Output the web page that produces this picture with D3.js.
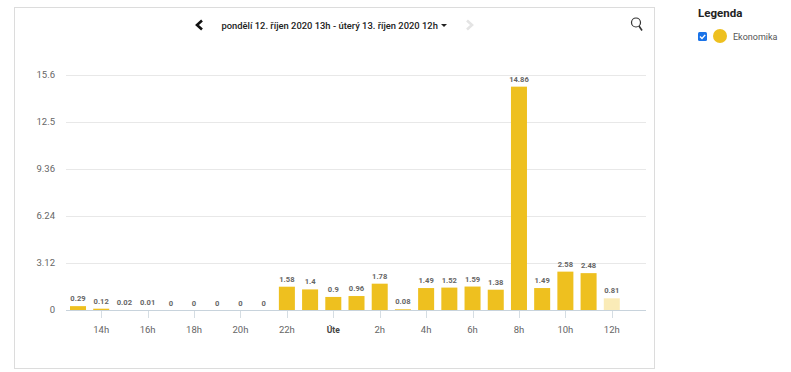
<!DOCTYPE html>
<html>
<head>
<meta charset="utf-8">
<script src="https://cdnjs.cloudflare.com/ajax/libs/d3/7.8.5/d3.min.js"></script>
<style>
  html, body { margin: 0; padding: 0; background: #fff; }
  svg { display: block; }
  text { font-family: Roboto, "Liberation Sans", sans-serif; }
</style>
</head>
<body>
<svg width="791" height="372"></svg>
<script>
const hours = ['13','14','15','16','17','18','19','20','21','22','23','0','1','2','3','4','5','6','7','8','9','10','11','12'];
const values = [0.29,0.12,0.02,0.01,0,0,0,0,0,1.58,1.4,0.9,0.96,1.78,0.08,1.49,1.52,1.59,1.38,14.86,1.49,2.58,2.48,0.81];
const yTicks = [0,3.12,6.24,9.36,12.5,15.6];
const tickHours = ['14','16','18','20','22','0','2','4','6','8','10','12'];
const title = 'pondělí 12. říjen 2020 13h - úterý 13. říjen 2020 12h';

const svg = d3.select('svg');

// chart frame
svg.append('rect')
  .attr('x', 14.5).attr('y', 7.5)
  .attr('width', 640).attr('height', 361)
  .attr('fill', '#fff').attr('stroke', '#dcdcdc');

const xScale = d3.scaleBand()
  .domain(hours)
  .range([66.4, 623.4])
  .paddingInner(0.31)
  .paddingOuter(0.155);

const yScale = d3.scaleLinear()
  .domain([0, 15.6])
  .range([310.5, 75.5]);

// grid
svg.selectAll('.grid').data(yTicks.filter(d => d > 0))
  .enter().append('line')
    .attr('class', 'grid')
    .attr('x1', 66).attr('x2', 646)
    .attr('y1', d => Math.floor(yScale(d)) + 0.5)
    .attr('y2', d => Math.floor(yScale(d)) + 0.5)
    .attr('stroke', '#e8e8e8');

svg.selectAll('.y-label').data(yTicks)
  .enter().append('text')
    .attr('class', 'y-label')
    .attr('x', 55)
    .attr('y', d => yScale(d) + 2.5)
    .attr('text-anchor', 'end')
    .attr('font-size', 9.5)
    .attr('fill', '#666')
    .text(d => d);

// bars
svg.selectAll('.bar').data(values)
  .enter().append('rect')
    .attr('class', 'bar')
    .attr('x', (d, i) => xScale(hours[i]))
    .attr('width', xScale.bandwidth())
    .attr('y', d => yScale(d))
    .attr('height', d => yScale(0) - yScale(d))
    .attr('fill', '#eec01f')
    .attr('opacity', (d, i) => i === values.length - 1 ? 0.32 : 1);

svg.selectAll('.value').data(values)
  .enter().append('text')
    .attr('class', 'value')
    .attr('x', (d, i) => xScale(hours[i]) + xScale.bandwidth() / 2)
    .attr('y', d => yScale(d) - 5)
    .attr('text-anchor', 'middle')
    .attr('font-size', 7.6)
    .attr('font-weight', 700)
    .attr('fill', '#666')
    .text(d => d);

// x axis
svg.append('line')
  .attr('x1', 66).attr('x2', 646)
  .attr('y1', 310.5).attr('y2', 310.5)
  .attr('stroke', '#c8d3dc');

const tickX = h => xScale(h) + xScale.bandwidth() / 2;

svg.selectAll('.tick').data(tickHours)
  .enter().append('line')
    .attr('class', 'tick')
    .attr('x1', d => Math.round(tickX(d)) + 0.5)
    .attr('x2', d => Math.round(tickX(d)) + 0.5)
    .attr('y1', 311).attr('y2', 318)
    .attr('stroke', '#d5dde3');

svg.selectAll('.x-label').data(tickHours)
  .enter().append('text')
    .attr('class', 'x-label')
    .attr('x', d => tickX(d))
    .attr('y', 333)
    .attr('text-anchor', 'middle')
    .attr('font-size', d => d === '0' ? 8.5 : 9.5)
    .attr('font-weight', d => d === '0' ? 700 : 400)
    .attr('fill', d => d === '0' ? '#444' : '#666')
    .text(d => d === '0' ? 'Úte' : d + 'h');

// header
svg.append('text')
  .attr('x', 221.5).attr('y', 29)
  .attr('font-size', 9.4)
  .attr('font-weight', 500)
  .attr('fill', '#222')
  .text(title);

svg.append('path')
  .attr('d', 'M441 24h6l-3 3z')
  .attr('fill', '#222');

svg.append('path')
  .attr('d', 'M202 20.5l-5 4.5l5 4.5')
  .attr('fill', 'none').attr('stroke', '#111').attr('stroke-width', 2.6);

svg.append('path')
  .attr('d', 'M467 20.5l5 4.5l-5 4.5')
  .attr('fill', 'none').attr('stroke', '#e4e4e4').attr('stroke-width', 2.6);

// search icon
svg.append('circle')
  .attr('cx', 636).attr('cy', 22.5).attr('r', 4.5)
  .attr('fill', 'none').attr('stroke', '#333').attr('stroke-width', 1.2);
svg.append('line')
  .attr('x1', 639).attr('y1', 26).attr('x2', 642).attr('y2', 30.5)
  .attr('stroke', '#333').attr('stroke-width', 1.6);

// legend
svg.append('text')
  .attr('x', 698).attr('y', 17)
  .attr('font-size', 11.5)
  .attr('font-weight', 700)
  .attr('fill', '#222')
  .text('Legenda');

svg.append('rect')
  .attr('x', 698).attr('y', 32)
  .attr('width', 9).attr('height', 9).attr('rx', 1.5)
  .attr('fill', '#1a73e8');
svg.append('path')
  .attr('d', 'M700 36.5l2 2l3.2-3.6')
  .attr('fill', 'none').attr('stroke', '#fff').attr('stroke-width', 1.4);

svg.append('circle')
  .attr('cx', 720).attr('cy', 36).attr('r', 7)
  .attr('fill', '#eec01f');

svg.append('text')
  .attr('x', 733).attr('y', 39.5)
  .attr('font-size', 9)
  .attr('fill', '#555')
  .text('Ekonomika');
</script>
</body>
</html>
